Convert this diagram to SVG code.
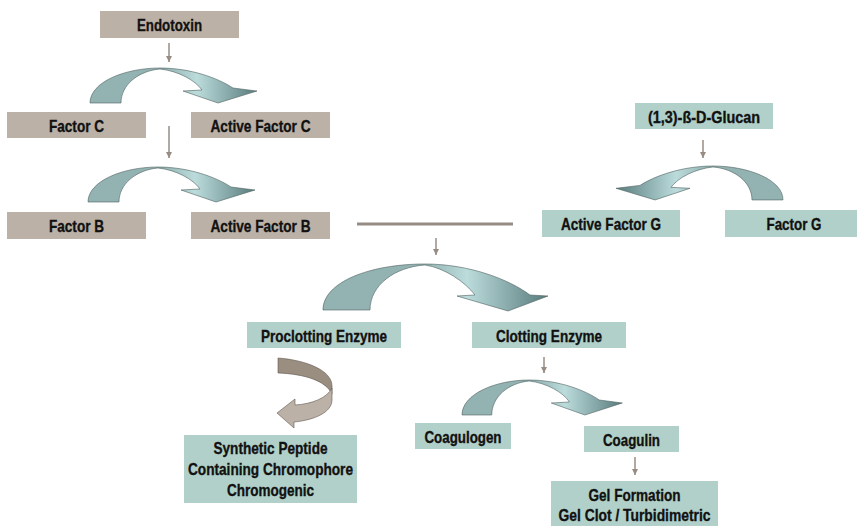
<svg xmlns="http://www.w3.org/2000/svg" width="857" height="526" viewBox="0 0 857 526">
<style>
.tan{fill:#bcb1a6}
.teal{fill:#b1d0c9}
.t{font-family:"Liberation Sans",Arial,sans-serif;font-weight:bold;font-size:16.5px;fill:#111;stroke:#111;stroke-width:0.35;text-anchor:middle}
.c{stroke:#978c83;stroke-width:1.5;fill:none}
.ribbon{fill:url(#rg);stroke:#4d5f5f;stroke-width:0.6}
</style>
<defs>
<linearGradient id="rg" x1="0" y1="0" x2="1" y2="0">
<stop offset="0" stop-color="#93b3b2"/>
<stop offset="0.45" stop-color="#93b3b2"/>
<stop offset="0.64" stop-color="#bcdcdc"/>
<stop offset="1" stop-color="#587b7b"/>
</linearGradient>
<marker id="ah" markerUnits="userSpaceOnUse" markerWidth="7" markerHeight="7" refX="6" refY="3" orient="auto">
<path d="M0,0 L6,3 L0,6 z" fill="#978c83"/>
</marker>
<path id="arc" d="M0,35 C0,14 35,0 70,0 C100,0 128,10 143,20 L167,23 L128,35 L93,23 L112,22 C105,12 88,3 70,1 C48,3 31,17 31,35 Z"/>
</defs>

<g id="connectors">
<line class="c" x1="169" y1="43" x2="169" y2="62" marker-end="url(#ah)"/>
<line class="c" x1="169" y1="126" x2="169" y2="158" marker-end="url(#ah)"/>
<line class="c" x1="703" y1="140" x2="703" y2="158" marker-end="url(#ah)"/>
<line class="c" x1="436" y1="238" x2="436" y2="255" marker-end="url(#ah)"/>
<line class="c" x1="544" y1="357" x2="544" y2="373" marker-end="url(#ah)"/>
<line class="c" x1="635" y1="457" x2="635" y2="475" marker-end="url(#ah)"/>
<line x1="357" y1="224" x2="513" y2="224" stroke="#978c83" stroke-width="3"/>
<use href="#arc" class="ribbon" transform="translate(90,68)"/>
<use href="#arc" class="ribbon" transform="translate(88,167)"/>
<use href="#arc" class="ribbon" transform="translate(783,166) scale(-1,0.97)"/>
<use href="#arc" class="ribbon" transform="translate(462,380) scale(0.96,1)"/>
<path class="ribbon" d="M323,310 C323,282 370,264 425,264 C470,264 510,280 530,295 L548,296 L508,311 L457,296 L475,295 C465,282 445,268 425,265 C395,267 370,285 370,310 Z"/>
<path d="M278,358 C305,360 332,370 332,386 L332,394 C326,381 305,374 278,373 Z" fill="#9a8e80" stroke="#5f5850" stroke-width="0.6"/>
<path d="M332,388 L332,400 C332,412 315,420 294,422 L294,428 L277,413 L295,399 L295,405 C312,404 327,398 332,388 Z" fill="#bcb1a6" stroke="#5f5850" stroke-width="0.6"/>
</g>

<g id="endotoxin"><rect class="tan" x="100" y="11" width="139" height="27"/><text class="t" x="169.5" y="31" textLength="65" lengthAdjust="spacingAndGlyphs">Endotoxin</text></g>
<g id="factor-c"><rect class="tan" x="7" y="112" width="139" height="26"/><text class="t" x="76.5" y="132" textLength="55" lengthAdjust="spacingAndGlyphs">Factor C</text></g>
<g id="active-factor-c"><rect class="tan" x="191" y="112" width="139" height="26"/><text class="t" x="260.5" y="132" textLength="100" lengthAdjust="spacingAndGlyphs">Active Factor C</text></g>
<g id="factor-b"><rect class="tan" x="7" y="212" width="139" height="27"/><text class="t" x="76.5" y="232" textLength="55" lengthAdjust="spacingAndGlyphs">Factor B</text></g>
<g id="active-factor-b"><rect class="tan" x="191" y="212" width="139" height="27"/><text class="t" x="260.5" y="232" textLength="100" lengthAdjust="spacingAndGlyphs">Active Factor B</text></g>
<g id="glucan"><rect class="teal" x="635" y="103" width="138" height="26"/><text class="t" x="704" y="123" textLength="112" lengthAdjust="spacingAndGlyphs">(1,3)-ß-D-Glucan</text></g>
<g id="active-factor-g"><rect class="teal" x="542" y="210" width="138" height="27"/><text class="t" x="611" y="230" textLength="100" lengthAdjust="spacingAndGlyphs">Active Factor G</text></g>
<g id="factor-g"><rect class="teal" x="725" y="210" width="132" height="27"/><text class="t" x="794" y="230" textLength="55" lengthAdjust="spacingAndGlyphs">Factor G</text></g>
<g id="proclotting-enzyme"><rect class="teal" x="247" y="322" width="154" height="26"/><text class="t" x="324" y="342" textLength="126" lengthAdjust="spacingAndGlyphs">Proclotting Enzyme</text></g>
<g id="clotting-enzyme"><rect class="teal" x="472" y="322" width="154" height="26"/><text class="t" x="549" y="342" textLength="106" lengthAdjust="spacingAndGlyphs">Clotting Enzyme</text></g>
<g id="synthetic-peptide"><rect class="teal" x="184" y="435" width="173" height="68"/><text class="t" x="270.5" y="454" textLength="114" lengthAdjust="spacingAndGlyphs">Synthetic Peptide</text><text class="t" x="270.5" y="475" textLength="165" lengthAdjust="spacingAndGlyphs">Containing Chromophore</text><text class="t" x="270.5" y="496" textLength="87" lengthAdjust="spacingAndGlyphs">Chromogenic</text></g>
<g id="coagulogen"><rect class="teal" x="415" y="423" width="96" height="26"/><text class="t" x="463" y="443" textLength="77" lengthAdjust="spacingAndGlyphs">Coagulogen</text></g>
<g id="coagulin"><rect class="teal" x="584" y="426" width="95" height="26"/><text class="t" x="631.5" y="446" textLength="57" lengthAdjust="spacingAndGlyphs">Coagulin</text></g>
<g id="gel-formation"><rect class="teal" x="551" y="481" width="167" height="45"/><text class="t" x="634.5" y="501" textLength="92" lengthAdjust="spacingAndGlyphs">Gel Formation</text><text class="t" x="634.5" y="521" textLength="152" lengthAdjust="spacingAndGlyphs">Gel Clot / Turbidimetric</text></g>
</svg>
